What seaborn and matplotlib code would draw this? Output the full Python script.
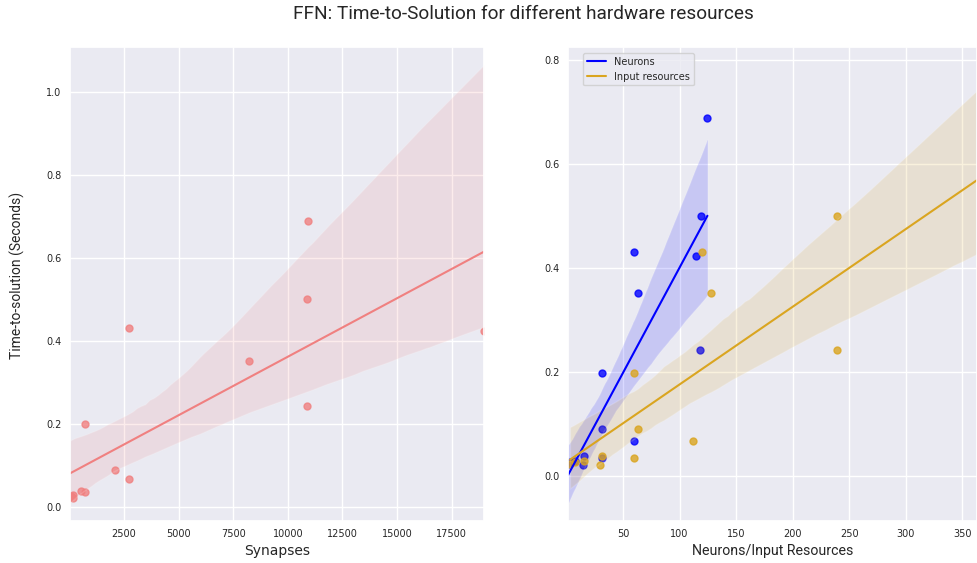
import matplotlib
matplotlib.use("Agg")
import matplotlib.pyplot as plt
from matplotlib.lines import Line2D
import seaborn as sns
import pandas as pd

# ---- data ----
time_s = [0.689, 0.500, 0.430, 0.423, 0.352, 0.242, 0.199, 0.090, 0.067, 0.039, 0.035, 0.022, 0.029, 0.024, 0.027]
synapses = [10940, 10895, 2745, 18983, 8220, 10895, 697, 2073, 2745, 528, 697, 174, 147, 24, 60]
neurons = [124.6, 118.7, 59.7, 114.6, 63.6, 117.9, 31.7, 31.7, 59.7, 15.5, 31.7, 14.3, 7.5, 1.5, 3.5]
inputs = [376, 239.4, 119.6, 368, 127.6, 239.4, 59.7, 63.6, 111.7, 31.7, 59.7, 29.6, 15.5, 3.1, 7.5]
series_labels = ["Neurons", "Input resources"]
title = "FFN: Time-to-Solution for different hardware resources"

df = pd.DataFrame({"time": time_s, "synapses": synapses, "neurons": neurons, "inputs": inputs})

sns.set_theme(style="darkgrid")
plt.rcParams["font.family"] = ["DejaVu Sans"]
narrow = ["Roboto", "DejaVu Sans"]

fig = plt.figure(figsize=(9.77, 5.63), dpi=100)
ax1 = fig.add_axes([70 / 977, 1 - 521 / 563, 414 / 977, 474 / 563])
ax2 = fig.add_axes([568 / 977, 1 - 521 / 563, 409 / 977, 474 / 563])

sns.regplot(data=df, x="synapses", y="time", ax=ax1, color="lightcoral",
            scatter_kws={"s": 25}, line_kws={"lw": 1.5}, seed=3)
ax1.set_xlim(min(synapses), max(synapses))
ax1.set_ylim(-0.034, 1.108)
ax1.set_xlabel("Synapses", fontsize=10, labelpad=3)
ax1.set_ylabel("")

sns.regplot(data=df, x="neurons", y="time", ax=ax2, color="blue",
            scatter_kws={"s": 25}, line_kws={"lw": 1.5}, seed=3)
sns.regplot(data=df, x="inputs", y="time", ax=ax2, color="goldenrod",
            scatter_kws={"s": 25}, line_kws={"lw": 1.5}, seed=3)
ax2.set_xlim(1.3, 363)
ax2.set_ylim(-0.0865, 0.825)
ax2.set_xlabel("Neurons/Input Resources", fontsize=10.2, family=narrow, labelpad=3)
ax2.set_ylabel("")

for ax in (ax1, ax2):
    ax.tick_params(labelsize=7, pad=6, length=0)

handles = [Line2D([], [], color="blue", lw=1.5), Line2D([], [], color="goldenrod", lw=1.5)]
ax2.legend(handles, series_labels, loc="upper left", bbox_to_anchor=(0.025, 0.998),
           fontsize=7, frameon=True)

fig.text(17 / 977, 1 - 275 / 563, "Time-to-solution (Seconds)", rotation=90,
         ha="center", va="center", fontsize=10, family=narrow)
fig.text(523 / 977, 1 - 14 / 563, title, ha="center", va="center", fontsize=13.7, family=narrow)

fig.savefig("out.png", dpi=100)
